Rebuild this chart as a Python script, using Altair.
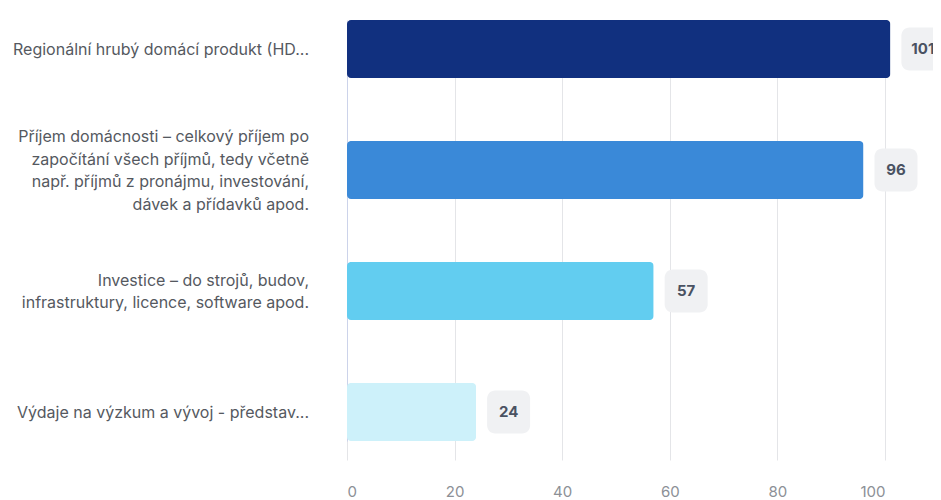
import altair as alt
import pandas as pd

categories = [
    "Regionální hrubý domácí produkt (HD...",
    "Příjem domácnosti – celkový příjem po|započítání všech příjmů, tedy včetně|např. příjmů z pronájmu, investování,|dávek a přídavků apod.",
    "Investice – do strojů, budov,|infrastruktury, licence, software apod.",
    "Výdaje na výzkum a vývoj - představ...",
]
values = [101, 96, 57, 24]
colors = ["#11307f", "#3a89d8", "#62cdf0", "#cdf1fa"]

LINE_H = 22.5
HALF_BAND = 29

df = pd.DataFrame({"cat": categories, "value": values, "color": colors})

y_enc = alt.Y(
    "cat:N",
    sort=categories,
    scale=alt.Scale(paddingInner=0.52, paddingOuter=0, range=[12, 433]),
    axis=alt.Axis(
        title=None,
        ticks=False,
        domain=True,
        domainColor="#ccd3ea",
        domainWidth=1,
        grid=False,
        labels=False,
    ),
)
x_scale = alt.Scale(domain=[0, 100], nice=False)

bars = alt.Chart(df).mark_bar(cornerRadius=4).encode(
    x=alt.X(
        "value:Q",
        scale=x_scale,
        axis=alt.Axis(
            title=None,
            values=[0, 20, 40, 60, 80, 100],
            grid=True,
            gridColor="#e4e5e8",
            ticks=False,
            domain=False,
            labelFont="Inter",
            labelFontSize=15,
            labelColor="#8c9096",
            labelPadding=12,
        ),
    ),
    y=y_enc,
    color=alt.Color("color:N", scale=None),
)

cat_labels = alt.Chart(df).transform_calculate(
    off=f"{HALF_BAND} + 1 - (length(split(datum.cat, '|')) - 1) * {LINE_H / 2}"
).mark_text(
    align="right", baseline="middle", font="Inter", fontSize=16,
    color="#55595f", lineBreak="|", lineHeight=LINE_H,
).encode(
    x=alt.value(-38),
    y=alt.Y("cat:N", sort=categories),
    yOffset=alt.YOffset("off:Q", scale=None),
    text="cat:N",
)

boxes = alt.Chart(df).mark_bar(
    cornerRadius=8, color="#f0f1f3", height=43, xOffset=11, x2Offset=54
).encode(
    x=alt.X("value:Q", scale=x_scale),
    x2="value:Q",
    y=alt.Y("cat:N", sort=categories),
)

texts = alt.Chart(df).mark_text(
    dx=32.5, align="center", baseline="middle", font="Inter",
    fontSize=15, fontWeight="bold", color="#4a5262"
).encode(
    x=alt.X("value:Q", scale=x_scale),
    y=alt.Y("cat:N", sort=categories),
    text="value:Q",
)

chart = alt.layer(bars, cat_labels, boxes, texts).properties(
    width=538,
    height=464,
    autosize=alt.AutoSizeParams(type="none"),
    padding={"left": 339, "top": 0, "right": 48, "bottom": 28},
).configure_view(stroke=None)

chart.save("out.html", embed_options={"renderer": "svg", "actions": False})
